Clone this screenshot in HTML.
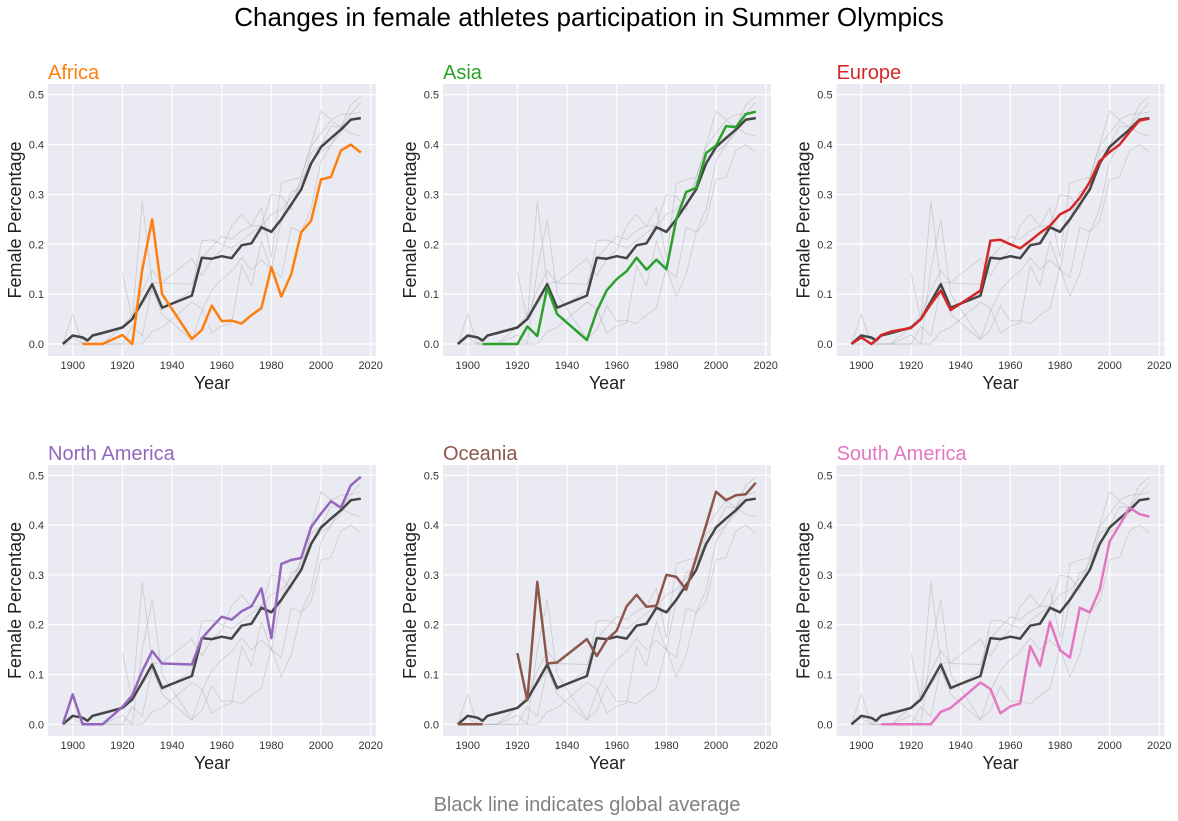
<!DOCTYPE html>
<html><head><meta charset="utf-8"><style>
body{margin:0;background:#fff;}
svg{display:block;font-family:"Liberation Sans",Arial,sans-serif;}
</style></head><body>
<svg id="c" width="1178" height="821">
<text x="589" y="26" text-anchor="middle" font-size="26" fill="#000">Changes in female athletes participation in Summer Olympics</text>
<text x="587" y="811" text-anchor="middle" font-size="20" fill="#808080">Black line indicates global average</text>
</svg>
<script>
const years=[1896,1900,1904,1906,1908,1912,1920,1924,1928,1932,1936,1948,1952,1956,1960,1964,1968,1972,1976,1980,1984,1988,1992,1996,2000,2004,2008,2012,2016];
const globalAvg=[0,0.017,0.013,0.007,0.017,0.022,0.033,0.05,0.085,0.12,0.073,0.097,0.173,0.171,0.176,0.172,0.198,0.202,0.234,0.225,0.25,0.28,0.31,0.362,0.395,0.413,0.43,0.45,0.453];
const africa=[null,null,0,0,0,0,0.018,0,0.15,0.25,0.1,0.01,0.028,0.077,0.046,0.047,0.041,0.058,0.072,0.154,0.095,0.14,0.224,0.247,0.33,0.335,0.388,0.4,0.384];
const asia=[null,null,null,0,0,0,0,0.035,0.016,0.113,0.06,0.008,0.066,0.108,0.13,0.146,0.173,0.149,0.169,0.15,0.25,0.305,0.313,0.383,0.398,0.437,0.435,0.461,0.466];
const europe=[0,0.013,0,0.008,0.018,0.025,0.032,0.05,0.08,0.107,0.068,0.107,0.207,0.209,0.2,0.192,0.207,0.223,0.237,0.26,0.27,0.293,0.325,0.367,0.385,0.4,0.425,0.448,0.452];
const northAmerica=[0,0.06,0,0,0,0,0.035,0.058,0.107,0.147,0.122,0.12,0.172,0.195,0.216,0.21,0.227,0.237,0.273,0.173,0.322,0.33,0.334,0.396,0.423,0.448,0.435,0.48,0.497];
const oceania=[0,0,0,0,null,null,0.143,0.048,0.286,0.122,0.124,0.171,0.137,0.17,0.188,0.237,0.26,0.236,0.238,0.3,0.296,0.27,0.335,0.4,0.467,0.45,0.46,0.462,0.485];
const southAmerica=[null,null,null,null,0,0,0,0,0,0.025,0.033,0.084,0.071,0.022,0.036,0.042,0.157,0.117,0.206,0.149,0.134,0.234,0.225,0.27,0.367,0.4,0.435,0.422,0.417];
const regionNames=["Africa","Asia","Europe","North America","Oceania","South America"];
const regionColors=["#ff7f0e","#2ca02c","#d62728","#9467bd","#8c564b","#e377c2"];
const regionData=[africa,asia,europe,northAmerica,oceania,southAmerica];
const xTicks=[1900,1920,1940,1960,1980,2000,2020];
const yTicks=[0,0.1,0.2,0.3,0.4,0.5];

const NS="http://www.w3.org/2000/svg";
const svg=document.getElementById('c');
function mk(t,a,p){const e=document.createElementNS(NS,t);for(const k in a)e.setAttribute(k,a[k]);(p||svg).appendChild(e);return e;}

regionNames.forEach((name,i)=>{
  const col=i%3,row=Math.floor(i/3);
  const ox=col===0?0:(col===1?395:788.6);
  const left=48+ox,right=376+ox;
  const top=row===0?84:465,bottom=row===0?356:736;
  const y0=row===0?344:724.3,y5=row===0?94.7:475.3;
  const X=v=>62.8+ox+(v-1896)*2.483;
  const Y=v=>y0+(y5-y0)*(v/0.5);
  const slug=name.toLowerCase().replace(/ /g,'-');
  const g=mk('g',{});
  
  
  const bg=mk('rect',{x:left,y:top,width:right-left,height:bottom-top,fill:'#eaeaf2'},g);
  
  
  xTicks.forEach(t=>{
    mk('line',{x1:X(t),x2:X(t),y1:top,y2:bottom,stroke:'#fff','stroke-width':1.2},g);
    const tx=mk('text',{x:X(t),y:bottom+13,'text-anchor':'middle','font-size':11,fill:'#333'},g);
    tx.textContent=t;
    
    
  });
  yTicks.forEach(t=>{
    mk('line',{x1:left,x2:right,y1:Y(t),y2:Y(t),stroke:'#fff','stroke-width':1.2},g);
    const tx=mk('text',{x:left-4,y:Y(t)+4,'text-anchor':'end','font-size':11,fill:'#333'},g);
    tx.textContent=t.toFixed(1);
    
    
  });
  function path(arr){
    let d='',pen=false;
    arr.forEach((v,k)=>{ if(v===null){pen=false;return;} d+=(pen?'L':'M')+X(years[k]).toFixed(1)+','+Y(v).toFixed(1); pen=true;});
    return d;
  }
  regionData.forEach((arr,j)=>{
    if(j===i)return;
    const p=mk('path',{d:path(arr),fill:'none',stroke:'#aaa','stroke-opacity':0.45,'stroke-width':0.9},g);
    
    
  });
  const gl=mk('path',{d:path(globalAvg),fill:'none',stroke:'#333','stroke-opacity':0.9,'stroke-width':2.5,'stroke-linejoin':'round'},g);
  
  
  const rl=mk('path',{d:path(regionData[i]),fill:'none',stroke:regionColors[i],'stroke-width':2.5,'stroke-linejoin':'round'},g);
  
  
  const tt=mk('text',{x:left,y:top-5,'font-size':20,fill:regionColors[i]},g);
  tt.textContent=name;
  
  
  const xl=mk('text',{x:(left+right)/2,y:bottom+33,'text-anchor':'middle','font-size':18,fill:'#222'},g);
  xl.textContent='Year';
  
  
  const cy=(top+bottom)/2;
  const yx=left-27;
  const yl=mk('text',{x:yx,y:cy,'text-anchor':'middle','font-size':18,fill:'#222',transform:`rotate(-90 ${yx} ${cy})`},g);
  yl.textContent='Female Percentage';
  
  
});
</script>
</body></html>
